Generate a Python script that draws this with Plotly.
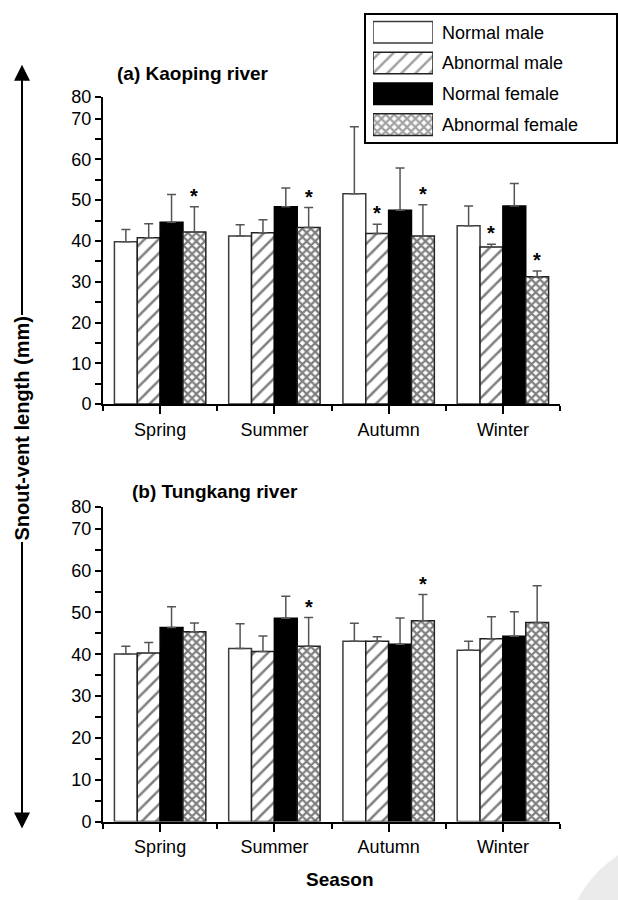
import plotly.graph_objects as go

# ---------------- data ----------------
seasons = ["Spring", "Summer", "Autumn", "Winter"]
groups = ["Normal male", "Abnormal male", "Normal female", "Abnormal female"]

# (a) Kaoping river: mean snout-vent length (mm) and SD, per season
kaoping_normal_male = [39.8, 41.2, 51.6, 43.7]
kaoping_normal_male_sd = [3.0, 2.8, 16.4, 4.9]
kaoping_abnormal_male = [40.8, 42.0, 41.8, 38.5]
kaoping_abnormal_male_sd = [3.4, 3.2, 2.3, 0.7]
kaoping_normal_female = [44.6, 48.4, 47.5, 48.6]
kaoping_normal_female_sd = [6.8, 4.6, 10.4, 5.5]
kaoping_abnormal_female = [42.2, 43.3, 41.2, 31.2]
kaoping_abnormal_female_sd = [6.2, 4.9, 7.7, 1.4]
kaoping_signif = {
    "Abnormal male": [False, False, True, True],
    "Abnormal female": [True, True, True, True],
}

# (b) Tungkang river
tungkang_normal_male = [40.1, 41.4, 43.1, 41.0]
tungkang_normal_male_sd = [1.8, 5.9, 4.3, 2.1]
tungkang_abnormal_male = [40.3, 40.7, 43.1, 43.7]
tungkang_abnormal_male_sd = [2.5, 3.7, 1.1, 5.3]
tungkang_normal_female = [46.4, 48.6, 42.4, 44.3]
tungkang_normal_female_sd = [5.0, 5.3, 6.3, 5.9]
tungkang_abnormal_female = [45.4, 41.9, 48.0, 47.6]
tungkang_abnormal_female_sd = [2.1, 6.9, 6.3, 8.8]
tungkang_signif = {
    "Abnormal male": [False, False, False, False],
    "Abnormal female": [False, True, True, False],
}

y_tick_values = [0, 10, 20, 30, 40, 50, 60, 70, 80]
y_tick_labels = ["0", "10", "20", "30", "40", "50", "60", "70", "80"]
y_minor_values = [5, 15, 25, 35, 45, 55, 65]

# ---------------- styling ----------------
W, H = 618, 900
FONT = "Liberation Sans Narrow, Arial Narrow, Liberation Sans, Arial, sans-serif"
BREAK_AT = 70
BREAK_SCALE = 0.53  # compressed segment 70-80 on the axis
BARGAP = 0.2


def axis_pos(v):
    return v if v <= BREAK_AT else BREAK_AT + (v - BREAK_AT) * BREAK_SCALE


def fx(p):
    return p / W


def fy(p):
    return 1 - p / H


HATCH = dict(shape="/", fgcolor="black", bgcolor="white", size=10, solidity=0.25)
CROSS = dict(shape="x", fgcolor="black", bgcolor="white", size=6, solidity=0.6)

styles = {
    "Normal male": dict(color="white", line=dict(color="#3c3c3c", width=1.5)),
    "Abnormal male": dict(color="white", line=dict(color="#222", width=1.5), pattern=HATCH),
    "Normal female": dict(color="black", line=dict(color="black", width=1.5)),
    "Abnormal female": dict(color="white", line=dict(color="#222", width=1.5), pattern=CROSS),
}

panels = [
    dict(name="(a) Kaoping river", xa="x", ya="y", top=89, bottom=403, title_x=115, title_y=65,
         means=[kaoping_normal_male, kaoping_abnormal_male, kaoping_normal_female, kaoping_abnormal_female],
         sds=[kaoping_normal_male_sd, kaoping_abnormal_male_sd, kaoping_normal_female_sd, kaoping_abnormal_female_sd],
         signif=kaoping_signif),
    dict(name="(b) Tungkang river", xa="x2", ya="y2", top=508, bottom=830, title_x=130, title_y=492,
         means=[tungkang_normal_male, tungkang_abnormal_male, tungkang_normal_female, tungkang_abnormal_female],
         sds=[tungkang_normal_male_sd, tungkang_abnormal_male_sd, tungkang_normal_female_sd, tungkang_abnormal_female_sd],
         signif=tungkang_signif),
]

fig = go.Figure()
annotations = []
season_idx = list(range(len(seasons)))
slot = (1 - BARGAP) / len(groups)

for p in panels:
    for k, g in enumerate(groups):
        m = p["means"][k]
        s = p["sds"][k]
        fig.add_trace(go.Bar(
            x=season_idx, y=m, name=g, marker=styles[g],
            error_y=dict(type="data", symmetric=False, array=s, arrayminus=[0] * len(s),
                         color="#555555", thickness=1.5, width=4.5),
            xaxis=p["xa"], yaxis=p["ya"], showlegend=False,
        ))
        if g in p["signif"]:
            for i, flag in enumerate(p["signif"][g]):
                if flag:
                    annotations.append(dict(
                        x=i + (k - (len(groups) - 1) / 2) * slot, y=m[i] + s[i],
                        xref=p["xa"], yref=p["ya"], text="<b>*</b>", showarrow=False,
                        yshift=11, font=dict(size=20, family=FONT, color="black")))
    annotations.append(dict(x=fx(p["title_x"]), y=fy(p["title_y"]), xref="paper", yref="paper",
                            xanchor="left", yanchor="middle", showarrow=False,
                            text="<b>" + p["name"] + "</b>",
                            font=dict(size=19, family=FONT, color="black")))

x_common = dict(range=[-0.5, len(seasons) - 0.5], tickvals=season_idx, ticktext=seasons,
                ticks="outside", ticklen=8, tickwidth=1.5, tickcolor="black",
                showline=True, linecolor="black", linewidth=2, showgrid=False, zeroline=False,
                minor=dict(tickvals=[i - 0.5 for i in range(len(seasons) + 1)], ticks="outside",
                           ticklen=5, tickwidth=1.5, tickcolor="black"),
                tickfont=dict(size=18, family=FONT, color="black"), domain=[fx(103), fx(560)])
y_common = dict(range=[0, axis_pos(80)], tickvals=[axis_pos(v) for v in y_tick_values],
                ticktext=y_tick_labels, ticks="outside", ticklen=6, tickwidth=1.5,
                tickcolor="black", showline=True, linecolor="black", linewidth=2,
                showgrid=False, zeroline=False,
                minor=dict(tickvals=y_minor_values, ticks="outside", ticklen=6, tickwidth=1.5,
                           tickcolor="black"),
                tickfont=dict(size=18, family=FONT, color="black"))

fig.update_layout(
    xaxis=dict(**x_common, anchor="y"),
    yaxis=dict(**y_common, anchor="x", domain=[fy(panels[0]["bottom"]), fy(panels[0]["top"])]),
    xaxis2=dict(**x_common, anchor="y2"),
    yaxis2=dict(**y_common, anchor="x2", domain=[fy(panels[1]["bottom"]), fy(panels[1]["top"])]),
)

# ---------------- legend (drawn as a small bar chart) ----------------
fig.add_trace(go.Bar(
    x=[1] * len(groups), y=groups, orientation="h", width=0.7, showlegend=False,
    marker=dict(
        color=[styles[g]["color"] for g in groups],
        line=dict(color=["#3c3c3c", "#222", "black", "#222"], width=1.5),
        pattern=dict(shape=["", "/", "", "x"], fgcolor="black",
                     bgcolor=[styles[g]["color"] for g in groups],
                     size=[10, 10, 10, 6], solidity=[0.25, 0.25, 0.25, 0.6]),
    ),
    xaxis="x3", yaxis="y3", hoverinfo="skip",
))
fig.update_layout(
    xaxis3=dict(domain=[fx(373), fx(433)], range=[0, 1], visible=False, anchor="y3"),
    yaxis3=dict(domain=[fy(133), fy(7)], anchor="x3", side="right", autorange="reversed",
                showline=False, ticks="", showgrid=False, zeroline=False, ticklabelstandoff=8,
                tickfont=dict(size=18, family=FONT, color="black")),
)

shapes = [
    # faint watermark disc in the bottom-right corner
    dict(type="circle", xref="paper", yref="paper", x0=fx(565), x1=fx(801), y0=fy(1081),
         y1=fy(845), fillcolor="#ebebeb", line=dict(width=0), layer="below"),
    dict(type="rect", xref="paper", yref="paper", x0=fx(365), x1=fx(617),
         y0=fy(136), y1=fy(4), line=dict(color="black", width=2)),
]

# y-axis title with arrows
annotations.append(dict(x=fx(22), y=fy(56), xref="paper", yref="paper", ax=0, ay=372,
                        text="", showarrow=True, arrowhead=2, arrowsize=1.6, arrowwidth=2,
                        arrowcolor="black"))
annotations.append(dict(x=fx(22), y=fy(837), xref="paper", yref="paper", ax=0, ay=-409,
                        text="", showarrow=True, arrowhead=2, arrowsize=1.6, arrowwidth=2,
                        arrowcolor="black"))
annotations.append(dict(x=fx(22), y=fy(428), xref="paper", yref="paper", textangle=-90,
                        xanchor="center", yanchor="middle",
                        text="<b>Snout-vent length (mm)</b>", showarrow=False, bgcolor="white",
                        font=dict(size=20, family=FONT, color="black")))
annotations.append(dict(x=fx(340), y=fy(889), xref="paper", yref="paper",
                        xanchor="center", yanchor="middle",
                        text="<b>Season</b>", showarrow=False,
                        font=dict(size=19, family=FONT, color="black")))

fig.update_layout(
    width=W, height=H, margin=dict(l=0, r=0, t=0, b=0),
    paper_bgcolor="white", plot_bgcolor="white",
    barmode="group", bargap=BARGAP, bargroupgap=0,
    annotations=annotations, shapes=shapes, showlegend=False,
    font=dict(family=FONT, color="black"),
)

fig.write_html("out.html", config={"displayModeBar": False},
               post_script="document.body.style.margin='0';")
